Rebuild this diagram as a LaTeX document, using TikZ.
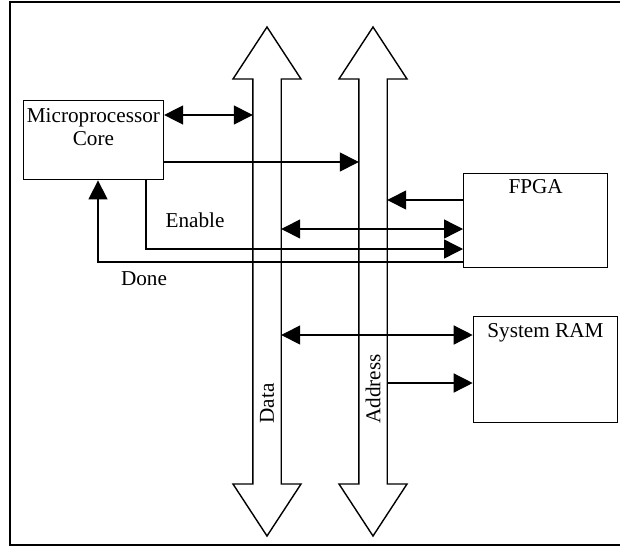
\documentclass[tikz,border=0pt]{standalone}
\usepackage{fontspec}
\setmainfont{Liberation Serif}
\usetikzlibrary{arrows.meta}
\tikzset{
  blk/.style={draw, line width=0.7pt, inner sep=0pt, anchor=north west},
  txt/.style={inner sep=0pt, align=center},
  sig/.style={line width=0.7pt, -{Triangle[length=9.5pt,width=9.5pt]}},
  bisig/.style={line width=0.7pt, {Triangle[length=9.5pt,width=9.5pt]}-{Triangle[length=9.5pt,width=9.5pt]}},
  bus/.style={draw, line width=0.7pt, line join=miter}
}
\begin{document}
\begin{tikzpicture}[x=0.5pt,y=-0.5pt,font=\fontsize{10.6}{11.5}\selectfont]
\useasboundingbox (0,0) rectangle (620,546);
\draw[line width=1pt] (620,2) -- (10,2) -- (10,545) -- (620,545); % frame, open on the right
% the two buses
\foreach \cx in {267, 373}
\draw[bus] (\cx-14.2,484) -- (\cx-14.2,79) -- (\cx-34,79) -- (\cx,27) -- (\cx+34,79)
  -- (\cx+14.2,79) -- (\cx+14.2,484) -- (\cx+34,484) -- (\cx,536) -- (\cx-34,484) -- cycle;
\coordinate (dataL) at (252.8,0);
\coordinate (dataR) at (281.2,0);
\coordinate (addrL) at (358.8,0);
\coordinate (addrR) at (387.2,0);
\node[txt, rotate=90, anchor=west] (datalbl) at (267,424) {Data};
\node[txt, rotate=90, anchor=west] (addrlbl) at (373,424) {Address};
% blocks
\node[blk, minimum width=70pt, minimum height=39.5pt] (cpu) at (22.7,100) {};
\node[txt, anchor=north] (cpulbl) at ([yshift=-4.2pt]cpu.north) {Microprocessor\\Core};
\node[blk, minimum width=72pt, minimum height=47pt] (fpga) at (463,172.7) {};
\node[txt, anchor=north] (fpgalbl) at ([yshift=-3.2pt]fpga.north) {FPGA};
\node[blk, minimum width=72pt, minimum height=53pt] (ram) at (472.7,316) {};
\node[txt, anchor=north] (ramlbl) at ([yshift=-3.5pt]ram.north) {System RAM};
\node[txt, anchor=base] (enlbl) at (195,227) {Enable};
\node[txt, anchor=base] (donelbl) at (144,285) {Done};
% signals
\draw[bisig] (cpu.east |- 0,115) -- (dataL |- 0,115);
\draw[sig] (cpu.east |- 0,162) -- (addrL |- 0,162);
\draw[sig] (fpga.west |- 0,200) -- (addrR |- 0,200);
\draw[bisig] (dataR |- 0,229) -- (fpga.west |- 0,229);
\draw[sig] (146,0 |- cpu.south) -- (146,249) -- (fpga.west |- 0,249); % enable
\draw[sig] (fpga.west |- 0,262) -- (98,262) -- (98,0 |- cpu.south); % done
\draw[bisig] (dataR |- 0,335) -- (ram.west |- 0,335);
\draw[sig] (addrR |- 0,383) -- (ram.west |- 0,383);
\end{tikzpicture}
\end{document}
